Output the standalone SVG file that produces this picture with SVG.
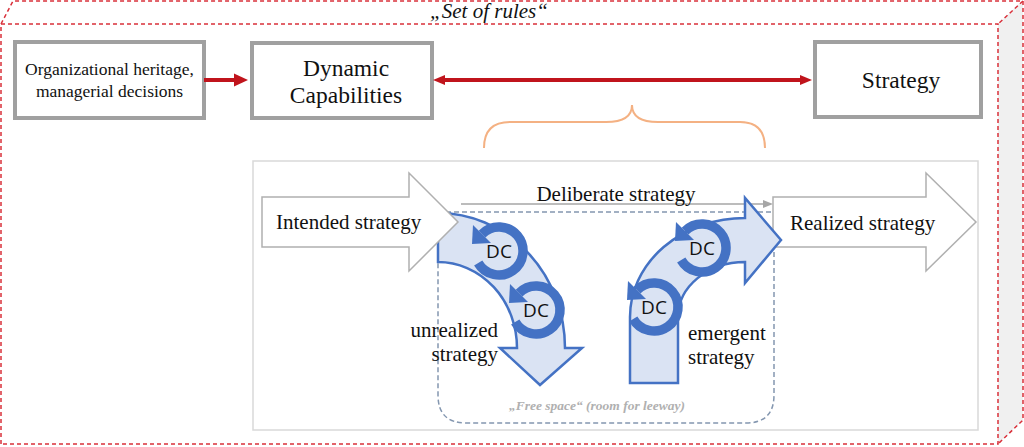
<svg xmlns="http://www.w3.org/2000/svg" width="1024" height="447" viewBox="0 0 1024 447">
<style>
.rules{fill:none;stroke:#d9303a;stroke-width:1.5;stroke-dasharray:4,3}
.box{fill:#fff;stroke:#a0a0a0;stroke-width:4}
.red{stroke:#c0141c;stroke-width:4;fill:none}
.redh{fill:#c0141c}
.wa{fill:#fff;stroke:#b0b0b0;stroke-width:1.5}
.ba{fill:#dae3f3;stroke:#4472c4;stroke-width:2.5;stroke-linejoin:miter}
</style>
<defs>
<g id="ring">
<circle r="20" fill="#dae3f3"/>
<path d="M-20.78,12 A24,24 0 1 0 -16.97,-16.97" fill="none" stroke="#4472c4" stroke-width="9.5"/>
<polygon points="-26,-26 -8,-8 -27,-7" fill="#4472c4"/>
</g>
</defs>
<g id="set-of-rules">
<polygon points="998,24 1023,0 1023,420 998,444" fill="#f0f0f0"/>
<path class="rules" d="M1,444 L1,24 L998,24 L998,444 Z"/>
<path class="rules" d="M1,24 L13,1 L1023,1 L998,24"/>
<path class="rules" d="M1023,1 L1023,420 L998,444"/>
<text x="489" y="18" font-family="'Liberation Serif', 'DejaVu Serif', serif" font-style="italic" font-size="21" fill="#111" text-anchor="middle">„Set of rules“</text>
</g>
<g id="heritage">
<rect class="box" x="15" y="42" width="189" height="76"/>
<text font-family="'Liberation Serif', 'DejaVu Serif', serif" fill="#111" font-size="17.5" text-anchor="middle"><tspan x="109.5" y="75">Organizational heritage,</tspan><tspan x="109.5" y="97">managerial decisions</tspan></text>
</g>
<g id="dc-box">
<rect class="box" x="252" y="43" width="180" height="75"/>
<text font-family="'Liberation Serif', 'DejaVu Serif', serif" fill="#111" font-size="23.5" text-anchor="middle"><tspan x="346" y="76">Dynamic</tspan><tspan x="346" y="103">Capabilities</tspan></text>
</g>
<g id="strategy">
<rect class="box" x="815" y="42" width="166" height="75"/>
<text x="901" y="88" font-family="'Liberation Serif', 'DejaVu Serif', serif" fill="#111" font-size="23.5" text-anchor="middle">Strategy</text>
</g>
<g id="connectors">
<line class="red" x1="204" y1="80" x2="236" y2="80"/>
<polygon class="redh" points="234,73.5 248,80 234,86.5"/>
<line class="red" x1="444" y1="80" x2="801" y2="80"/>
<polygon class="redh" points="445,75 433,80 445,85"/>
<polygon class="redh" points="800,75 812,80 800,85"/>
<path d="M484,148 Q484,122 510,122 L606,122 Q632,122 632,105 Q632,122 658,122 L740,122 Q765,122 765,148" fill="none" stroke="#f4b183" stroke-width="2"/>
</g>
<g id="panel">
<rect x="253" y="161" width="725" height="269" fill="#fff" stroke="#d9d9d9" stroke-width="1.5"/>
<path d="M438,212 L774,212 L774,395 Q774,423 746,423 L466,423 Q438,423 438,395 Z" fill="none" stroke="#8497b0" stroke-width="1.5" stroke-dasharray="5,3"/>
<text x="597" y="410" font-family="'Liberation Serif', 'DejaVu Serif', serif" font-style="italic" font-weight="bold" font-size="13.5" fill="#b0b0b0" text-anchor="middle">„Free space“ (room for leeway)</text>
</g>
<g id="deliberate">
<line x1="461" y1="204" x2="765" y2="204" stroke="#a6a6a6" stroke-width="1.5"/>
<polygon points="763,200 773,204 763,208" fill="#a6a6a6"/>
<text x="616" y="201" font-family="'Liberation Serif', 'DejaVu Serif', serif" fill="#111" font-size="21" text-anchor="middle">Deliberate strategy</text>
</g>
<g id="unrealized">
<path class="ba" d="M438,213 A127,135 0 0 1 565,348 L582,348 L540,385 L500,348 L517,348 A79,86 0 0 0 438,262 Z"/>
<use href="#ring" x="499" y="251"/>
<text x="499" y="258" font-family="'Open Sans', 'Liberation Sans', sans-serif" font-size="19" fill="#111" text-anchor="middle">DC</text>
<use href="#ring" x="536" y="310"/>
<text x="536" y="317" font-family="'Open Sans', 'Liberation Sans', sans-serif" font-size="19" fill="#111" text-anchor="middle">DC</text>
<text font-family="'Liberation Serif', 'DejaVu Serif', serif" fill="#111" font-size="21" text-anchor="end"><tspan x="498" y="337">unrealized</tspan><tspan x="498" y="361">strategy</tspan></text>
</g>
<g id="intended">
<polygon class="wa" points="262,197 409,197 409,173 458,222 409,271 409,247 262,247"/>
<text x="276" y="229" font-family="'Liberation Serif', 'DejaVu Serif', serif" fill="#111" font-size="21">Intended strategy</text>
</g>
<g id="realized">
<polygon class="wa" points="773,197 926,197 926,173 976,222 926,271 926,247 773,247"/>
<text x="790" y="230" font-family="'Liberation Serif', 'DejaVu Serif', serif" fill="#111" font-size="21">Realized strategy</text>
</g>
<g id="emergent">
<path class="ba" d="M630,383 L630,317 A115,99 0 0 1 745,218 L745,198 L781,240 L745,283 L745,262 A67,55 0 0 0 678,317 L678,383 Z"/>
<use href="#ring" x="702" y="248"/>
<text x="702" y="255" font-family="'Open Sans', 'Liberation Sans', sans-serif" font-size="19" fill="#111" text-anchor="middle">DC</text>
<use href="#ring" x="654" y="307"/>
<text x="654" y="314" font-family="'Open Sans', 'Liberation Sans', sans-serif" font-size="19" fill="#111" text-anchor="middle">DC</text>
<text font-family="'Liberation Serif', 'DejaVu Serif', serif" fill="#111" font-size="21"><tspan x="688" y="340">emergent</tspan><tspan x="688" y="364">strategy</tspan></text>
</g>
</svg>
